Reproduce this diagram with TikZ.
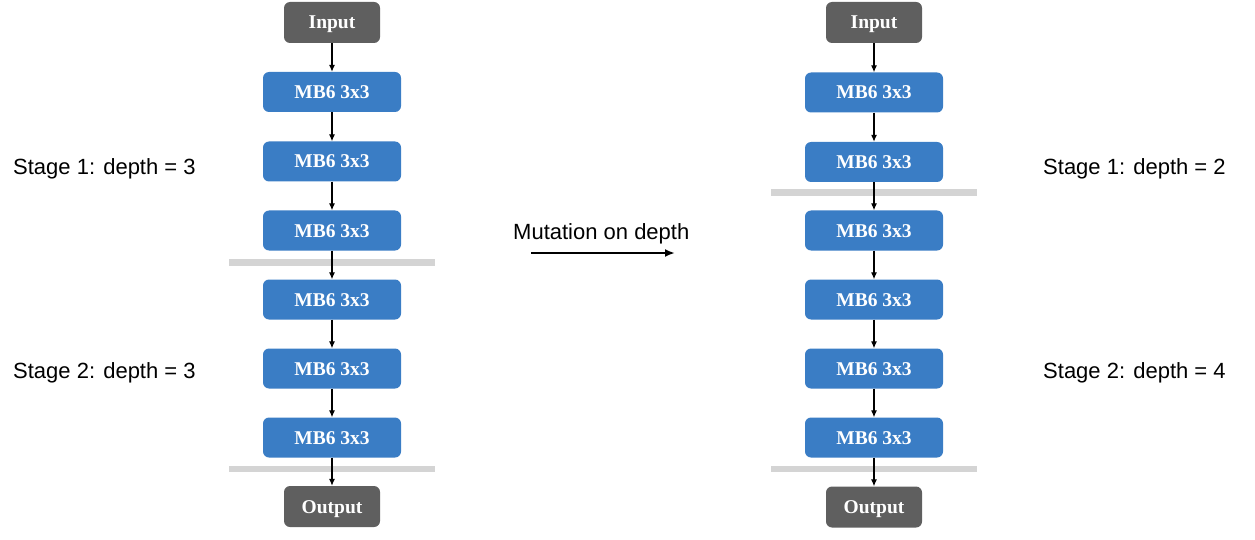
\documentclass[tikz,border=0pt]{standalone}
\usepackage{fontspec}
\setmainfont{Liberation Serif}
\newfontfamily\helv{Liberation Sans}
\usetikzlibrary{arrows.meta}
\definecolor{mbblue}{HTML}{3A7DC5}
\definecolor{iogray}{HTML}{5F5F5F}
\definecolor{sepgray}{HTML}{D4D4D4}
\begin{document}
\begin{tikzpicture}[x=1pt,y=-1pt,
  boxfont/.style={font=\fontsize{19.5}{22}\selectfont\bfseries,text height=13pt,text depth=0pt},
  mbbox/.style={rectangle,rounded corners=6pt,fill=mbblue,draw=none,minimum width=138pt,minimum height=40pt,inner sep=0pt,text=white,boxfont},
  iobox/.style={rectangle,rounded corners=6pt,fill=iogray,draw=none,minimum width=96pt,minimum height=41pt,inner sep=0pt,text=white,boxfont},
  flow/.style={line width=1.1pt,-{Latex[length=7pt,width=6pt]}},
  sep/.style={line width=6.5pt,sepgray},
  lab/.style={anchor=base west,inner sep=0pt,font=\helv\fontsize{22}{26}\selectfont}]
\useasboundingbox (0,0) rectangle (1255,540);
% separators
\coordinate (sl1a) at (229,262.5); \coordinate (sl1b) at (435,262.5);
\coordinate (sl2a) at (229,469); \coordinate (sl2b) at (435,469);
\coordinate (sr1a) at (771,192.5); \coordinate (sr1b) at (977,192.5);
\coordinate (sr2a) at (771,469); \coordinate (sr2b) at (977,469);
\draw[sep] (sl1a) -- (sl1b);
\draw[sep] (sl2a) -- (sl2b);
\draw[sep] (sr1a) -- (sr1b);
\draw[sep] (sr2a) -- (sr2b);
% left column
\node[iobox] (L0) at (332,22.5) {Input};
\node[mbbox] (L1) at (332,92) {MB6 3x3};
\node[mbbox] (L2) at (332,161.5) {MB6 3x3};
\node[mbbox] (L3) at (332,230.5) {MB6 3x3};
\node[mbbox] (L4) at (332,299.5) {MB6 3x3};
\node[mbbox] (L5) at (332,368.5) {MB6 3x3};
\node[mbbox] (L6) at (332,437.5) {MB6 3x3};
\node[iobox] (L7) at (332,506.5) {Output};
% right column
\node[iobox] (R0) at (874,22.5) {Input};
\node[mbbox] (R1) at (874,92.5) {MB6 3x3};
\node[mbbox] (R2) at (874,162) {MB6 3x3};
\node[mbbox] (R3) at (874,230.5) {MB6 3x3};
\node[mbbox] (R4) at (874,299.5) {MB6 3x3};
\node[mbbox] (R5) at (874,368.5) {MB6 3x3};
\node[mbbox] (R6) at (874,437.5) {MB6 3x3};
\node[iobox] (R7) at (874,507) {Output};
% arrows
\foreach \a/\b in {0/1,1/2,2/3,3/4,4/5,5/6,6/7}{
  \draw[flow] (L\a) -- (L\b);
  \draw[flow] (R\a) -- (R\b);
}
% labels
\node[lab] (s1l) at (13,175) {Stage 1: depth = 3};
\node[lab] (s2l) at (13,378) {Stage 2: depth = 3};
\node[lab] (s1r) at (1043,175) {Stage 1: depth = 2};
\node[lab] (s2r) at (1043,378) {Stage 2: depth = 4};
\node[lab] (mut) at (513,239) {Mutation on depth};
\coordinate (ma) at (531,253);
\coordinate (mb) at (675,253);
\draw[line width=2pt,-{Latex[length=10pt,width=8pt]}] (ma) -- (mb);
\end{tikzpicture}
\end{document}
